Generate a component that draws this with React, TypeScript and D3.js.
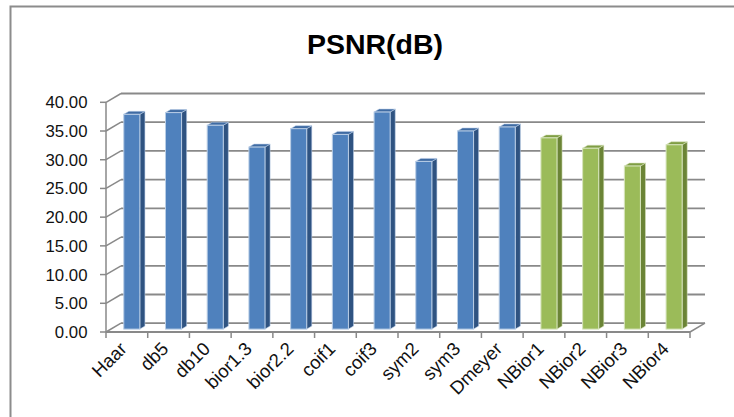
import React from "react";
import * as d3 from "d3";

// Wavelet filters compared by PSNR
const categories = [
  "Haar", "db5", "db10", "bior1.3", "bior2.2", "coif1", "coif3",
  "sym2", "sym3", "Dmeyer", "NBior1", "NBior2", "NBior3", "NBior4",
];
const psnrValues = [37.4, 37.7, 35.5, 31.7, 34.9, 33.9, 37.8, 29.2, 34.5, 35.2, 33.3, 31.5, 28.4, 32.1];
const proposedFilters = ["NBior1", "NBior2", "NBior3", "NBior4"];
const yTicks = [0, 5, 10, 15, 20, 25, 30, 35, 40];

const W = 734;
const H = 417;

// 3D plot box: front plane and depth offset to the back wall
const FRONT_LEFT = 106;
const FRONT_RIGHT = 690;
const FRONT_BOTTOM = 332;
const FRONT_TOP = 102.3;
const DEPTH_X = 15;
const DEPTH_Y = -8.8;
const BAR_D0 = 0.33;
const BAR_D1 = 0.67;

const palette = {
  standard: { front: "#4F81BD", side: "#2F5381", top: "#3F6BA3", rim: "#B9CDE5" },
  proposed: { front: "#9BBB59", side: "#6B8436", top: "#7F9D44", rim: "#D7E4BD" },
};

const gridColor = "#898989";
const font = "'Liberation Sans', Arial, sans-serif";

export default function App() {
  const x = d3.scaleBand<string>().domain(categories).range([FRONT_LEFT, FRONT_RIGHT]).padding(0);
  const y = d3.scaleLinear().domain([0, 40]).range([FRONT_BOTTOM, FRONT_TOP]);
  const bw = x.bandwidth();
  const barW = bw * 0.385;
  const ddx = (BAR_D1 - BAR_D0) * DEPTH_X;
  const ddy = (BAR_D1 - BAR_D0) * DEPTH_Y;

  const pts = (p: [number, number][]) => p.map((q) => q.join(",")).join(" ");

  return (
    <svg
      width={W}
      height={H}
      viewBox={`0 0 ${W} ${H}`}
      style={{ position: "absolute", left: 0, top: 0, background: "#fff" }}
    >
      {/* chart area frame */}
      <rect x={10.5} y={6.5} width={W + 20} height={H + 20} fill="#fff" stroke="#8C8C8C" strokeWidth={2} />

      <text
        x={375}
        y={53.5}
        textAnchor="middle"
        fontFamily={font}
        fontWeight="bold"
        fontSize={28.5}
        fill="#000"
      >
        PSNR(dB)
      </text>

      {/* back wall gridlines and side wall diagonals */}
      {yTicks.map((t) => {
        const yy = y(t);
        return (
          <g key={`g${t}`}>
            <line
              x1={FRONT_LEFT + DEPTH_X}
              x2={FRONT_RIGHT + DEPTH_X}
              y1={yy + DEPTH_Y}
              y2={yy + DEPTH_Y}
              stroke={gridColor}
              strokeWidth={1.8}
            />
            <line
              x1={FRONT_LEFT}
              y1={yy}
              x2={FRONT_LEFT + DEPTH_X}
              y2={yy + DEPTH_Y}
              stroke={gridColor}
              strokeWidth={1.5}
            />
          </g>
        );
      })}

      {/* floor */}
      <line
        x1={FRONT_RIGHT}
        y1={FRONT_BOTTOM}
        x2={FRONT_RIGHT + DEPTH_X}
        y2={FRONT_BOTTOM + DEPTH_Y}
        stroke={gridColor}
        strokeWidth={1.5}
      />
      <line x1={FRONT_LEFT} x2={FRONT_RIGHT} y1={FRONT_BOTTOM} y2={FRONT_BOTTOM} stroke={gridColor} strokeWidth={1.8} />

      {/* value axis */}
      <line x1={FRONT_LEFT} x2={FRONT_LEFT} y1={y(40)} y2={FRONT_BOTTOM} stroke={gridColor} strokeWidth={1.5} />
      {yTicks.map((t) => (
        <g key={`t${t}`}>
          <line x1={FRONT_LEFT - 6} x2={FRONT_LEFT} y1={y(t)} y2={y(t)} stroke={gridColor} strokeWidth={1.5} />
          <text
            x={87.5}
            y={y(t)}
            dy="0.36em"
            textAnchor="end"
            fontFamily={font}
            fontSize={16.8}
            fill="#111"
          >
            {d3.format(".2f")(t)}
          </text>
        </g>
      ))}

      {/* category ticks */}
      {categories.concat(["__end"]).map((c, i) => {
        const xx = FRONT_LEFT + i * bw;
        return (
          <line key={`c${i}`} x1={xx} x2={xx} y1={FRONT_BOTTOM} y2={FRONT_BOTTOM + 6} stroke={gridColor} strokeWidth={1.5} />
        );
      })}

      {/* bars */}
      {categories.map((c, i) => {
        const v = psnrValues[i];
        const col = proposedFilters.includes(c) ? palette.proposed : palette.standard;
        const cx = (x(c) as number) + bw / 2 + BAR_D0 * DEPTH_X;
        const x0 = cx - barW / 2;
        const x1 = cx + barW / 2;
        const yb = y(0) + BAR_D0 * DEPTH_Y;
        const yt = y(v) + BAR_D0 * DEPTH_Y;
        return (
          <g key={c}>
            <polygon
              points={pts([[x1, yt], [x1 + ddx, yt + ddy], [x1 + ddx, yb + ddy], [x1, yb]])}
              fill={col.side}
              stroke={col.rim}
              strokeWidth={0.8}
              strokeOpacity={0.7}
            />
            <polygon
              points={pts([[x0, yt], [x1, yt], [x1 + ddx, yt + ddy], [x0 + ddx, yt + ddy]])}
              fill={col.top}
              stroke={col.rim}
              strokeWidth={0.8}
              strokeOpacity={0.7}
            />
            <rect x={x0} y={yt} width={barW} height={yb - yt} fill={col.front} stroke={col.rim} strokeWidth={1} />
          </g>
        );
      })}

      {/* category labels */}
      {categories.map((c) => {
        const ax = (x(c) as number) + bw / 2 + 1;
        const ay = 350;
        return (
          <text
            key={`l${c}`}
            transform={`translate(${ax},${ay}) rotate(-45)`}
            textAnchor="end"
            fontFamily={font}
            fontSize={18.5}
            fill="#111"
          >
            {c}
          </text>
        );
      })}
    </svg>
  );
}
